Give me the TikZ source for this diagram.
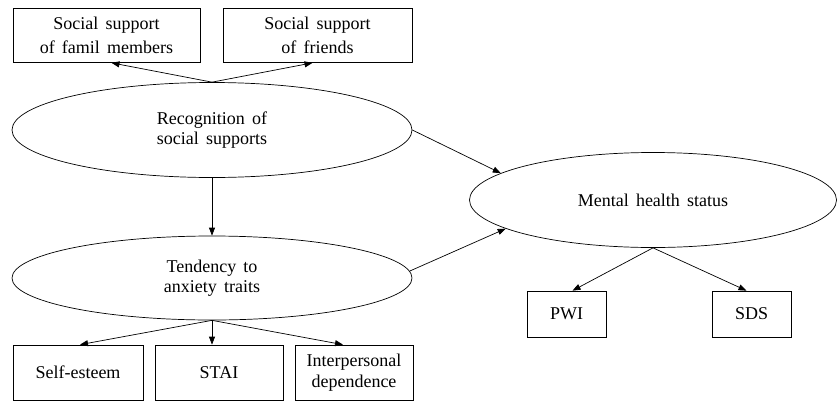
\documentclass[tikz,border=0pt]{standalone}
\usepackage{fontspec}
\setmainfont{Liberation Serif}
\usetikzlibrary{shapes.geometric,arrows.meta}
\newcommand\widewords{\spaceskip=0.4em plus 0.1em\relax}
\begin{document}
\begin{tikzpicture}[x=1pt,y=-1pt,
  every node/.style={font=\fontsize{18}{24}\selectfont, align=center, inner sep=0pt, execute at begin node=\widewords},
  box/.style={draw, line width=0.7pt, rectangle},
  oval/.style={draw, line width=0.7pt, ellipse, font=\fontsize{18}{20}\selectfont},
  arr/.style={line width=0.7pt, -{Triangle[length=8pt,width=6pt]}}]
\useasboundingbox (0,0) rectangle (840,407);
% top boxes
\node[box, minimum width=187pt, minimum height=54pt] (fam) at (106.5,35.5) {Social support\\of famil members};
\node[box, minimum width=189pt, minimum height=54pt] (fri) at (317.5,35.5) {Social support\\of friends};
% ellipses
\node[oval, minimum width=400pt, minimum height=95pt] (rec) at (212,130) {Recognition of\\social supports};
\node[oval, minimum width=400pt, minimum height=84pt] (ten) at (212,278) {Tendency to\\anxiety traits};
\node[oval, minimum width=367pt, minimum height=95pt] (mh) at (653,200) {Mental health status};
% bottom boxes
\node[box, minimum width=130pt, minimum height=55pt] (se) at (78,372.5) {Self-esteem};
\node[box, minimum width=128pt, minimum height=55pt] (stai) at (219,372.5) {STAI};
\node[box, minimum width=118pt, minimum height=55pt, font=\fontsize{18}{21}\selectfont] (ip) at (354,372.5) {Interpersonal\\dependence};
\node[box, minimum width=79pt, minimum height=46pt] (pwi) at (566.5,314) {PWI};
\node[box, minimum width=79pt, minimum height=46pt] (sds) at (751.5,314) {SDS};
% connectors
\draw[arr] (rec.north) -- ([xshift=5pt]fam.south);
\draw[arr] (rec.north) -- ([xshift=-5pt]fri.south);
\draw[arr] (rec.south) -- (ten.north);
\draw[arr] (rec.east) -- (mh.170);
\draw[arr] (ten.2) -- (mh.191);
\draw[arr] (ten.south) -- ([xshift=2pt]se.north);
\draw[arr] (ten.south) -- (ten.south |- stai.north);
\draw[arr] (ten.south) -- ([xshift=-11pt]ip.north);
\draw[arr] (mh.south) -- ([xshift=6pt]pwi.north);
\draw[arr] (mh.south) -- ([xshift=-5pt]sds.north);
\end{tikzpicture}
\end{document}
